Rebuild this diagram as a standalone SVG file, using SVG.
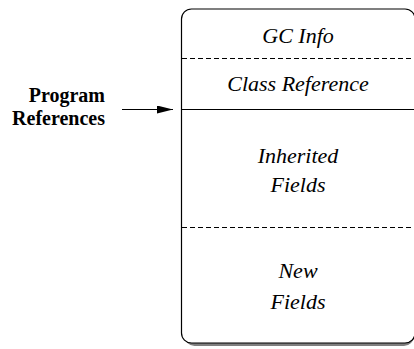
<svg xmlns="http://www.w3.org/2000/svg" width="414" height="349" viewBox="0 0 414 349">
<defs>
<style>
.shadow{fill:#7f7f7f;stroke:none}
.fillw{fill:#fff;stroke:none}
.outline{fill:none;stroke:#000;stroke-width:1.2}
.solid{stroke:#000;stroke-width:1.2;fill:none}
.dash{stroke:#000;stroke-width:1.1;fill:none;stroke-dasharray:5 3}
.it{font-style:italic;font-size:22px;fill:#000;text-anchor:middle}
.bd{font-weight:bold;font-size:20px;fill:#000;text-anchor:end}
</style>
<marker id="ah" markerWidth="16" markerHeight="8" refX="16" refY="4" orient="auto" markerUnits="userSpaceOnUse">
<path d="M0,0 L16,4 L0,8 Z" fill="#000"/>
</marker>
</defs>
<g id="object">
<path class="shadow" d="M184.5,300 L414,300 L414,336 A10,10 0 0 1 404,346 L194.5,346 A10,10 0 0 1 184.5,336 Z"/>
<path class="fillw" d="M191.5,9 L405,9 A10,10 0 0 1 415,19 L415,333 A10,10 0 0 1 405,343 L191.5,343 A10,10 0 0 1 181.5,333 L181.5,19 A10,10 0 0 1 191.5,9 Z"/>
<path class="outline" d="M415,19 A10,10 0 0 0 405,9 L191.5,9 A10,10 0 0 0 181.5,19 L181.5,333 A10,10 0 0 0 191.5,343 L405,343 A10,10 0 0 0 415,333"/>
<line class="dash" x1="182" y1="58.5" x2="414" y2="58.5"/>
<line class="solid" x1="182" y1="109.5" x2="414" y2="109.5"/>
<line class="dash" x1="182" y1="227.5" x2="414" y2="227.5"/>
</g>
<g id="gc-info"><text class="it" font-family="Liberation Serif, serif" x="298" y="43">GC Info</text></g>
<g id="class-reference"><text class="it" font-family="Liberation Serif, serif" x="298" y="91">Class Reference</text></g>
<g id="inherited-fields"><text class="it" font-family="Liberation Serif, serif" x="298" y="163">Inherited</text><text class="it" font-family="Liberation Serif, serif" x="298" y="192">Fields</text></g>
<g id="new-fields"><text class="it" font-family="Liberation Serif, serif" x="298" y="278">New</text><text class="it" font-family="Liberation Serif, serif" x="298" y="309">Fields</text></g>
<g id="program-references"><text class="bd" font-family="Liberation Serif, serif" x="105" y="102">Program</text><text class="bd" font-family="Liberation Serif, serif" x="105" y="125">References</text></g>
<g id="connectors">
<line x1="122" y1="109.5" x2="173" y2="109.5" stroke="#000" stroke-width="1.2" marker-end="url(#ah)"/>
</g>
</svg>
